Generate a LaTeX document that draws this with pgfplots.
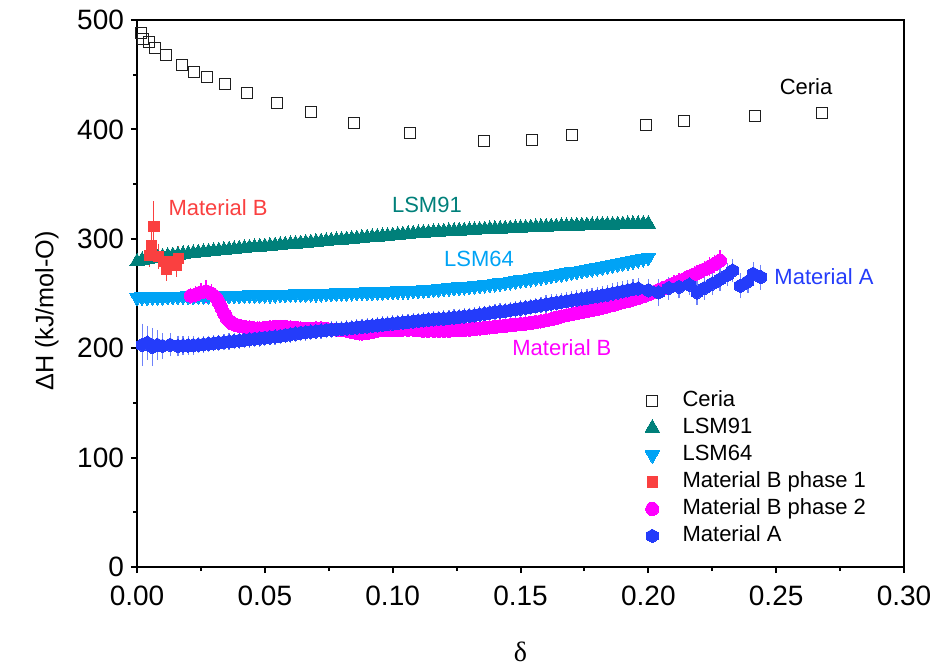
\documentclass[border=0pt]{standalone}
\usepackage{fontspec}
\setmainfont{Liberation Sans}
\newfontfamily\seriffont{Liberation Serif}
\usepackage{pgfplots}
\pgfplotsset{compat=1.18}
\definecolor{ceriaC}{RGB}{30,30,30}
\definecolor{lsmA}{RGB}{0,128,122}
\definecolor{lsmB}{RGB}{0,163,245}
\definecolor{matBa}{RGB}{250,64,64}
\definecolor{matBb}{RGB}{255,0,255}
\definecolor{matA}{RGB}{36,60,250}
\definecolor{matAe}{RGB}{110,130,250}
\pgfdeclareplotmark{hexagon*}{%
  \pgfpathmoveto{\pgfpointpolar{90}{\pgfplotmarksize}}%
  \pgfpathlineto{\pgfpointpolar{150}{\pgfplotmarksize}}%
  \pgfpathlineto{\pgfpointpolar{210}{\pgfplotmarksize}}%
  \pgfpathlineto{\pgfpointpolar{270}{\pgfplotmarksize}}%
  \pgfpathlineto{\pgfpointpolar{330}{\pgfplotmarksize}}%
  \pgfpathlineto{\pgfpointpolar{30}{\pgfplotmarksize}}%
  \pgfpathclose
  \pgfusepathqfillstroke}
\begin{document}
\begin{tikzpicture}
\begin{axis}[name=ax,
  width=383.5pt, height=273.5pt, scale only axis,
  xmin=0, xmax=0.30, ymin=0, ymax=500,
  xtick={0,0.05,0.1,0.15,0.2,0.25,0.3},
  ytick={0,100,200,300,400,500},
  minor x tick num=1, minor y tick num=1,
  tick align=outside, xtick pos=left, ytick pos=left,
  major tick length=3pt, minor tick length=2pt,
  axis line style={line width=1pt},
  every tick/.style={black, line width=1pt},
  every minor tick/.style={black, line width=1pt},
  /pgf/number format/assume math mode=true,
  tick label style={font=\fontsize{14}{16}\selectfont},
  xticklabel style={yshift=-3pt, /pgf/number format/.cd, fixed, fixed zerofill, precision=2},
  yticklabel style={/pgf/number format/.cd, fixed, precision=0},
  scaled x ticks=false,
  xlabel={\seriffont δ},
  xlabel style={at={(axis description cs:0.5,-0.155)}, anchor=center, font=\fontsize{14}{16}\selectfont},
  ylabel={ΔH (kJ/mol-O)},
  ylabel style={at={(axis description cs:-0.1174,0.468)}, anchor=center, rotate=0, font=\fontsize{12.6}{14}\selectfont},
  legend cell align=left,
  legend style={draw=none, fill=none, at={(axis description cs:0.654,0.330)}, anchor=north west,
    font=\fontsize{11}{13}\selectfont, row sep=3.5pt, column sep=11.5pt,
    nodes={inner sep=0pt, text height=8pt, text depth=2pt}},
]
% Ceria
\addplot[only marks, mark=square, mark size=2.7pt, mark options={draw=ceriaC, line width=0.5pt}] table {
x y
0.0016 488.4
0.0025 482.4
0.0047 480.2
0.0070 474.2
0.0112 468.0
0.0177 458.9
0.0223 452.8
0.0273 447.6
0.0344 441.2
0.0431 433.6
0.0548 424.4
0.0682 415.6
0.0848 405.6
0.1069 396.4
0.1357 389.7
0.1544 390.3
0.1701 394.9
0.1991 404.0
0.2140 407.7
0.2418 412.3
0.2680 415.0
};
\addlegendentry{Ceria}
% LSM91
\addplot[only marks, mark=triangle*, mark size=4.2pt, color=lsmA, mark options={line width=0pt}] table {
x y
0.000 279.0
0.002 280.4
0.004 281.5
0.006 282.3
0.008 283.0
0.010 283.6
0.012 284.2
0.014 284.8
0.016 285.3
0.018 285.8
0.020 286.3
0.022 286.8
0.024 287.3
0.026 287.7
0.028 288.2
0.030 288.7
0.032 289.2
0.034 289.6
0.036 290.1
0.038 290.5
0.040 291.0
0.042 291.4
0.044 291.8
0.046 292.2
0.048 292.6
0.050 293.0
0.052 293.4
0.054 293.8
0.056 294.2
0.058 294.6
0.060 295.0
0.062 295.4
0.064 295.8
0.066 296.2
0.068 296.6
0.070 297.0
0.072 297.4
0.074 297.8
0.076 298.2
0.078 298.6
0.080 299.0
0.082 299.4
0.084 299.8
0.086 300.2
0.088 300.6
0.090 301.0
0.092 301.4
0.094 301.8
0.096 302.2
0.098 302.6
0.100 303.0
0.102 303.4
0.104 303.8
0.106 304.2
0.108 304.6
0.110 305.0
0.112 305.3
0.114 305.6
0.116 305.9
0.118 306.2
0.120 306.5
0.122 306.8
0.124 307.0
0.126 307.3
0.128 307.5
0.130 307.8
0.132 308.0
0.134 308.3
0.136 308.5
0.138 308.7
0.140 308.9
0.142 309.1
0.144 309.3
0.146 309.5
0.148 309.7
0.150 309.9
0.152 310.1
0.154 310.3
0.156 310.5
0.158 310.7
0.160 310.9
0.162 311.1
0.164 311.2
0.166 311.4
0.168 311.5
0.170 311.7
0.172 311.8
0.174 312.0
0.176 312.1
0.178 312.3
0.180 312.4
0.182 312.6
0.184 312.7
0.186 312.8
0.188 312.9
0.190 313.1
0.192 313.2
0.194 313.3
0.196 313.4
0.198 313.5
0.200 313.6
};
\addlegendentry{LSM91}
% LSM64
\addplot[only marks, mark=triangle*, mark size=4.2pt, color=lsmB, mark options={rotate=180, line width=0pt}] table {
x y
0.000 246.5
0.002 246.7
0.004 246.8
0.006 246.9
0.008 247.0
0.010 247.1
0.012 247.2
0.014 247.3
0.016 247.4
0.018 247.5
0.020 247.6
0.022 247.6
0.024 247.7
0.026 247.8
0.028 247.9
0.030 247.9
0.032 248.0
0.034 248.0
0.036 248.1
0.038 248.2
0.040 248.3
0.042 248.4
0.044 248.5
0.046 248.6
0.048 248.7
0.050 248.8
0.052 248.9
0.054 249.0
0.056 249.1
0.058 249.2
0.060 249.3
0.062 249.4
0.064 249.5
0.066 249.6
0.068 249.7
0.070 249.8
0.072 249.9
0.074 250.0
0.076 250.2
0.078 250.3
0.080 250.5
0.082 250.6
0.084 250.8
0.086 250.9
0.088 251.1
0.090 251.2
0.092 251.4
0.094 251.5
0.096 251.7
0.098 251.8
0.100 252.0
0.102 252.2
0.104 252.4
0.106 252.6
0.108 252.8
0.110 253.0
0.112 253.3
0.114 253.6
0.116 253.9
0.118 254.2
0.120 254.6
0.122 255.0
0.124 255.4
0.126 255.8
0.128 256.2
0.130 256.6
0.132 257.1
0.134 257.5
0.136 258.0
0.138 258.5
0.140 259.0
0.142 259.6
0.144 260.2
0.146 260.8
0.148 261.5
0.150 262.2
0.152 262.9
0.154 263.6
0.156 264.3
0.158 265.0
0.160 265.8
0.162 266.5
0.164 267.3
0.166 268.0
0.168 268.8
0.170 269.5
0.172 270.3
0.174 271.1
0.176 271.9
0.178 272.7
0.180 273.5
0.182 274.3
0.184 275.2
0.186 276.1
0.188 277.0
0.190 277.9
0.192 278.9
0.194 279.9
0.196 280.9
0.198 281.9
0.200 283.0
};
\addlegendentry{LSM64}
% Material B phase 1
\addplot[only marks, mark=square*, mark size=2.6pt, color=matBa, mark options={line width=0pt},
  error bars/.cd, y dir=both, y explicit,
  error bar style={matBa, line width=0.6pt},
  error mark options={matBa, mark size=3pt, line width=0.6pt}] table[x=x, y=y, y error=e] {
x y e
0.0050 285 5
0.0057 294 7
0.0066 311 18
0.0083 284 6
0.0103 279 5
0.0116 272 5
0.0135 279 4
0.0155 276 5
0.0162 282 6
};
\addlegendentry{Material B phase 1}
% Material B phase 2
\addplot[only marks, mark=*, mark size=3.3pt, color=matBb, mark options={line width=0pt},
  error bars/.cd, y dir=both, y explicit,
  error bar style={matBb, line width=0.6pt},
  error mark options={matBb, mark size=3pt, line width=0.6pt}] table[x=x, y=y, y error=e] {
x y e
0.021 248 2
0.023 249 2
0.025 251 3
0.027 252 5
0.029 250 3
0.031 246 2
0.032 242 1
0.033 237 1
0.034 232 1
0.035 228 1
0.036 225 1
0.037 223 1
0.038 222 1
0.039 221 1
0.040 220.5 1
0.042 219.5 1
0.044 219 1
0.045 218.5 1
0.047 218 1
0.048 218 1
0.050 218.5 1
0.052 219 1
0.054 219.5 1
0.056 219.5 1
0.058 219.5 1
0.060 219 1
0.062 218.5 1
0.064 218 1
0.066 217.5 1
0.068 217.5 1
0.070 218 1
0.072 218 1
0.074 217.5 1
0.076 217 1
0.078 217 1
0.080 216.5 1
0.082 216 1
0.084 215 1
0.086 214 1
0.087 213.5 1
0.088 213.5 1
0.090 214 1
0.092 215 1
0.094 216 1
0.096 216.5 1
0.098 216.5 1
0.100 216.5 1
0.102 216.5 1
0.104 217 1
0.106 217 1
0.108 217 1
0.110 216.5 1
0.112 216 1
0.114 216 1
0.116 216 1
0.118 216 1
0.120 216 1
0.122 216 1
0.124 216.3 1
0.126 216.5 1
0.128 216.8 1
0.130 217 1
0.132 217.5 1
0.134 218 1
0.136 218.5 1
0.138 219 1
0.140 219.5 1
0.142 220 1
0.144 220.5 1
0.146 221 1
0.148 221.5 1
0.150 222 1
0.152 222.5 1
0.154 223 1
0.156 223.8 1
0.158 224.5 1
0.160 225.5 1
0.162 226.5 1
0.164 227.8 1
0.166 229 1
0.168 230 1
0.170 231 1
0.172 232 1
0.174 233 1
0.176 234 1
0.178 235 1
0.180 236 1
0.182 237 1
0.184 238.2 1
0.186 239.5 1
0.188 240.8 1
0.190 242 1
0.192 243.2 1
0.194 244.5 1
0.196 246 1
0.198 247.5 1
0.200 249.2 1
0.202 251 1
0.204 253 1
0.206 255 1
0.208 257 2
0.210 259 2
0.212 261 2
0.214 263 2
0.216 265.2 2
0.218 267.5 2
0.220 269.8 2
0.222 272 2
0.224 274.5 3
0.226 277 3
0.228 280 4
};
\addlegendentry{Material B phase 2}
% Material A
\addplot[only marks, mark=hexagon*, mark size=3.4pt, color=matA, mark options={line width=0pt},
  error bars/.cd, y dir=both, y explicit,
  error bar style={matAe, line width=0.6pt},
  error mark options={matAe, mark size=3pt, line width=0.6pt}] table[x=x, y=y, y error=e] {
x y e
0.002 203 14
0.004 205 10
0.006 201 12
0.008 203 8
0.010 202 6
0.013 203 5
0.016 202 4
0.018 202.3 3
0.020 202.5 3
0.022 202.7 3
0.024 203 2
0.026 203.5 2
0.028 204 2
0.030 204.5 2
0.032 205 2
0.034 205.5 2
0.036 206 2
0.038 206.5 2
0.040 207 2
0.042 207.5 2
0.044 208 2
0.046 208.5 2
0.048 209 2
0.050 209.5 2
0.052 210 2
0.054 210.5 2
0.056 211 2
0.058 211.8 2
0.060 212.5 2
0.062 213.3 2
0.064 214 2
0.066 214.5 2
0.068 215 2
0.070 215.5 2
0.072 216 2
0.074 216.5 2
0.076 217 2
0.078 217.3 2
0.080 217.5 2
0.082 218 2
0.084 218.5 2
0.086 219 2
0.088 219.5 2
0.090 220 2
0.092 220.5 2
0.094 221 2
0.096 221.5 2
0.098 222 2
0.100 222.5 2
0.102 223 2
0.104 223.5 2
0.106 224 2
0.108 224.5 2
0.110 225 2
0.112 225.5 2
0.114 226 2
0.116 226.5 2
0.118 226.8 2
0.120 227 2
0.122 227.5 2
0.124 228 2
0.126 228.5 2
0.128 229 2
0.130 229.5 2
0.132 230 2
0.134 230.8 2
0.136 231.5 2
0.138 232.3 2
0.140 233 2
0.142 233.5 2
0.144 234 2
0.146 234.8 2
0.148 235.5 2
0.150 236.3 2
0.152 237 2
0.154 237.8 2
0.156 238.5 2
0.158 239.3 2
0.160 240 3
0.162 240.8 3
0.164 241.5 3
0.166 242.3 3
0.168 243 3
0.170 243.8 3
0.172 244.5 3
0.174 245.3 3
0.176 246 3
0.178 246.8 3
0.180 247.5 3
0.182 248.3 3
0.184 249 3
0.186 250 4
0.188 251 4
0.190 252 4
0.192 253 4
0.194 254 4
0.196 254.5 4
0.200 253 5
0.204 251 7
0.208 255 5
0.212 256 5
0.216 258 4
0.219 251 6
0.222 255 5
0.225 259 5
0.228 263 5
0.231 267 5
0.233 271 5
0.236 257 6
0.239 261 5
0.241 268 5
0.244 265 6
};
\addlegendentry{Material A}
% annotations
\node[font=\fontsize{11}{13}\selectfont, text=black] at (axis cs:0.2617,438.8) {Ceria};
\node[font=\fontsize{11}{13}\selectfont, text=matBa] at (axis cs:0.0317,328.2) {Material B};
\node[font=\fontsize{11}{13}\selectfont, text=lsmA] at (axis cs:0.1134,330.9) {LSM91};
\node[font=\fontsize{11}{13}\selectfont, text=lsmB] at (axis cs:0.1338,281.5) {LSM64};
\node[font=\fontsize{11}{13}\selectfont, text=matA] at (axis cs:0.2687,265.1) {Material A};
\node[font=\fontsize{11}{13}\selectfont, text=matBb] at (axis cs:0.1662,200.2) {Material B};
\end{axis}
\pgfresetboundingbox
\path[use as bounding box] ([shift={(-68.5pt,-49pt)}]ax.south west) rectangle ([shift={(13pt,10pt)}]ax.north east);
\end{tikzpicture}
\end{document}
